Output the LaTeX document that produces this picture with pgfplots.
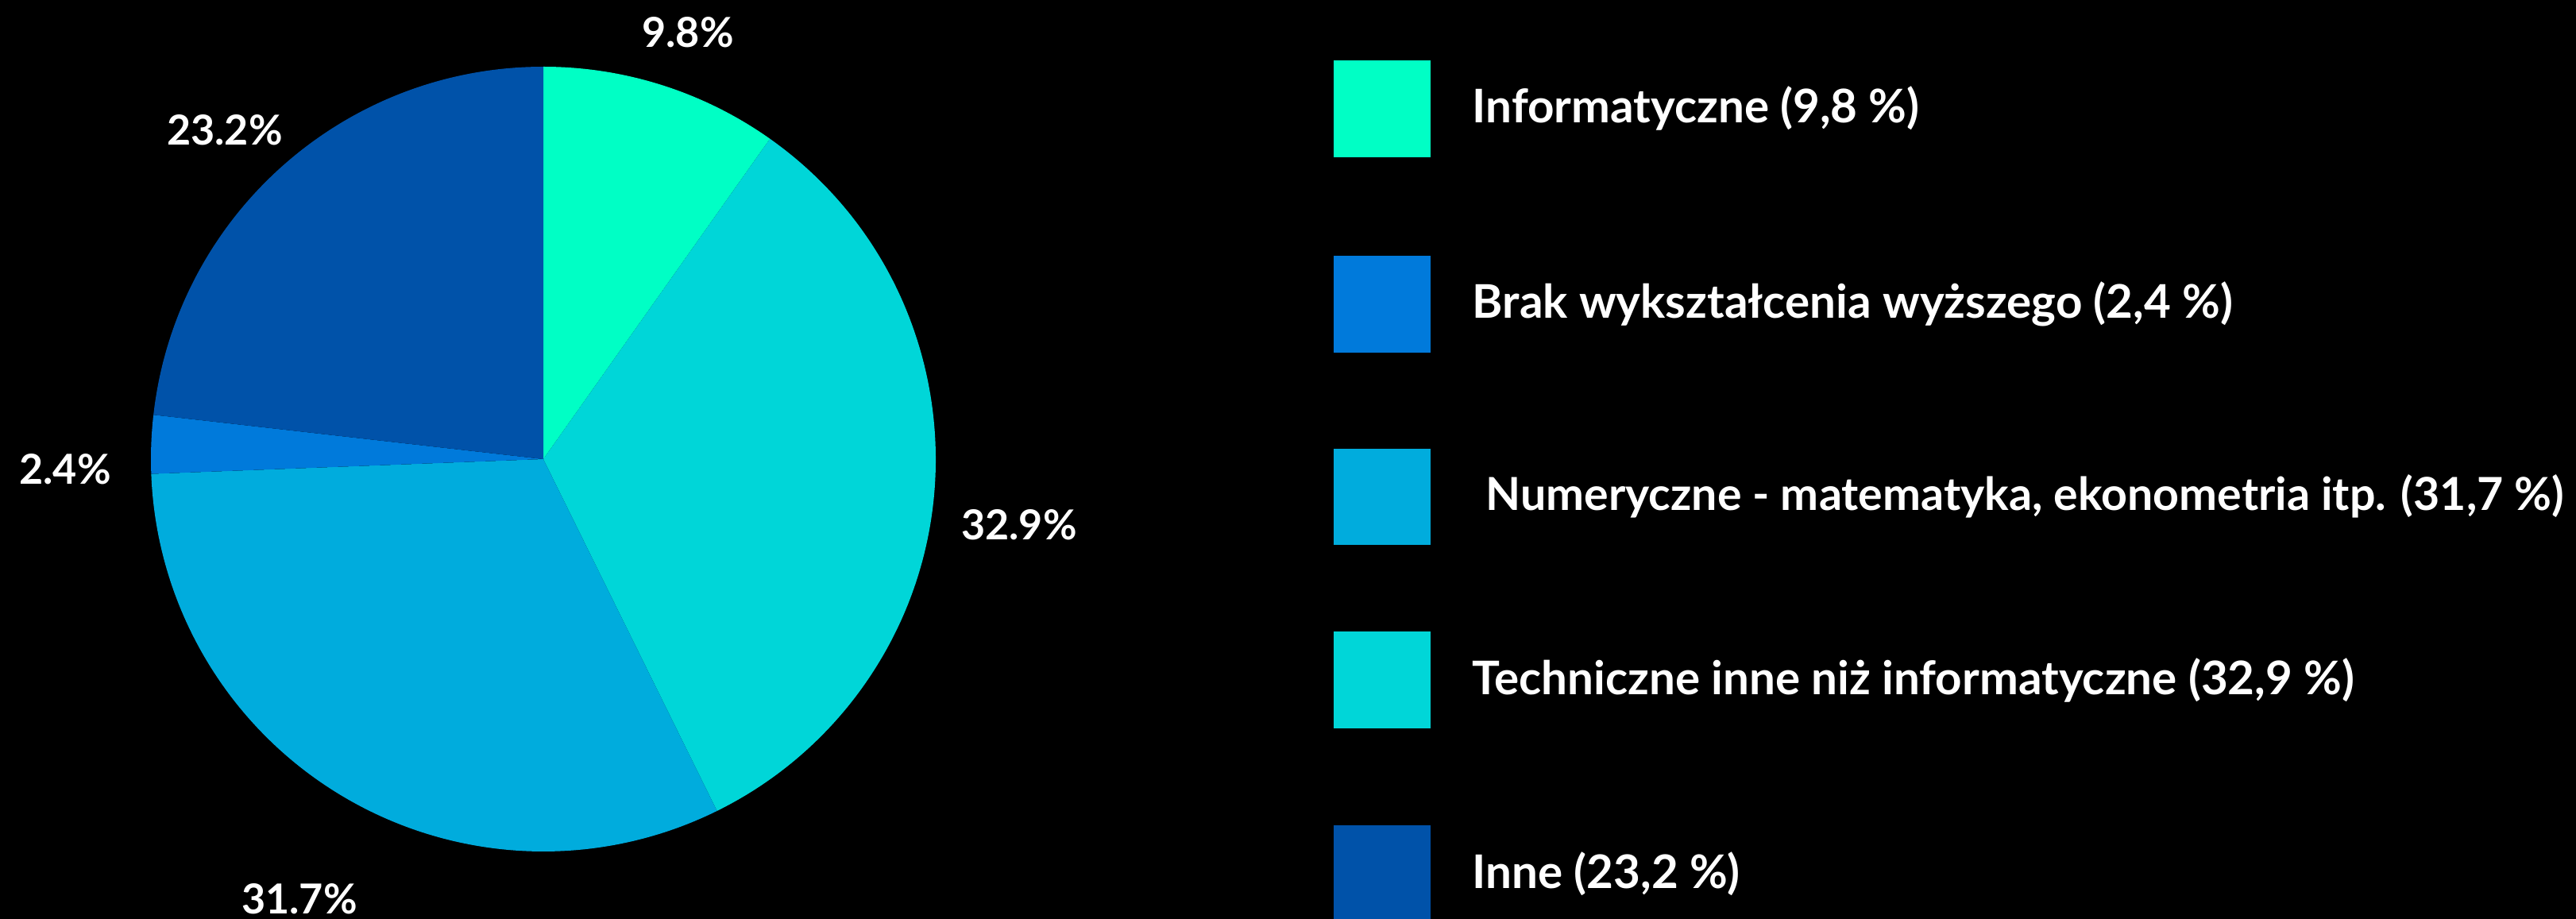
\documentclass[border=0pt]{standalone}
\usepackage{fontspec}
\setmainfont{Lato}
\usepackage{pgfplots}
\usepackage{pgfplotstable}
\pgfplotsset{compat=1.18}

\definecolor{cInf}{HTML}{00FFC5}
\definecolor{cBrak}{HTML}{007ADB}
\definecolor{cNum}{HTML}{00ACDD}
\definecolor{cTech}{HTML}{00D6D8}
\definecolor{cInne}{HTML}{0052A9}

% slices clockwise from 12 o'clock
\pgfplotstableread{
val col
9.8  cInf
32.9 cTech
31.7 cNum
2.4  cBrak
23.2 cInne
}\piedata

\begin{document}
\begin{tikzpicture}
\path[use as bounding box, fill=black] (0,0) rectangle (32.43cm,11.57cm);
\begin{axis}[
    at={(0,0)}, anchor=south west,
    scale only axis,
    width=32.43cm, height=11.57cm,
    xmin=0, xmax=3243, ymin=0, ymax=1157,
    hide axis, clip=false,
]
\coordinate (pc) at (axis cs:684,579);

% slice labels
\begin{scope}[every node/.style={text=white, font=\bfseries\fontsize{14.8}{17}\selectfont, anchor=base, inner sep=0pt}]
\node at (axis cs:866,1097) {9.8\%};
\node at (axis cs:1283,477) {32.9\%};
\node at (axis cs:377,6) {31.7\%};
\node at (axis cs:82,547) {2.4\%};
\node at (axis cs:283,974) {23.2\%};
\end{scope}

% legend
\fill[cInf]  (axis cs:1679,959) rectangle (axis cs:1801,1081);
\fill[cBrak] (axis cs:1679,713) rectangle (axis cs:1801,835);
\fill[cNum]  (axis cs:1679,471) rectangle (axis cs:1801,592);
\fill[cTech] (axis cs:1679,240) rectangle (axis cs:1801,362);
\fill[cInne] (axis cs:1679,-4)  rectangle (axis cs:1801,118);
\begin{scope}[every node/.style={text=white, font=\bfseries\fontsize{16.6}{20}\selectfont, anchor=base west, inner sep=0pt}]
\node at (axis cs:1853,1002) {Informatyczne (9,8 \%)};
\node at (axis cs:1853,756) {Brak wykształcenia wyższego (2,4 \%)};
\node[font=\bfseries\fontsize{16.3}{20}\selectfont] at (axis cs:1870,514) {Numeryczne - matematyka, ekonometria itp. (31,7 \%)};
\node at (axis cs:1853,282) {Techniczne inne niż informatyczne (32,9 \%)};
\node at (axis cs:1853,39) {Inne (23,2 \%)};
\end{scope}
\end{axis}

% pie slices from the table, around the centre taken from the axis
\def\R{4.94cm}
\gdef\ang{90}
\pgfplotstablegetrowsof{\piedata}
\pgfmathtruncatemacro\nrows{\pgfplotsretval-1}
\foreach \i in {0,...,\nrows}{
    \pgfplotstablegetelem{\i}{val}\of\piedata \let\v\pgfplotsretval
    \pgfplotstablegetelem{\i}{col}\of\piedata \let\c\pgfplotsretval
    \pgfmathsetmacro\endang{\ang-3.6*\v}
    \fill[\c] (pc) -- ++(\ang:\R) arc[start angle=\ang, end angle=\endang, radius=\R] -- cycle;
    \xdef\ang{\endang}
}
\end{tikzpicture}
\end{document}
